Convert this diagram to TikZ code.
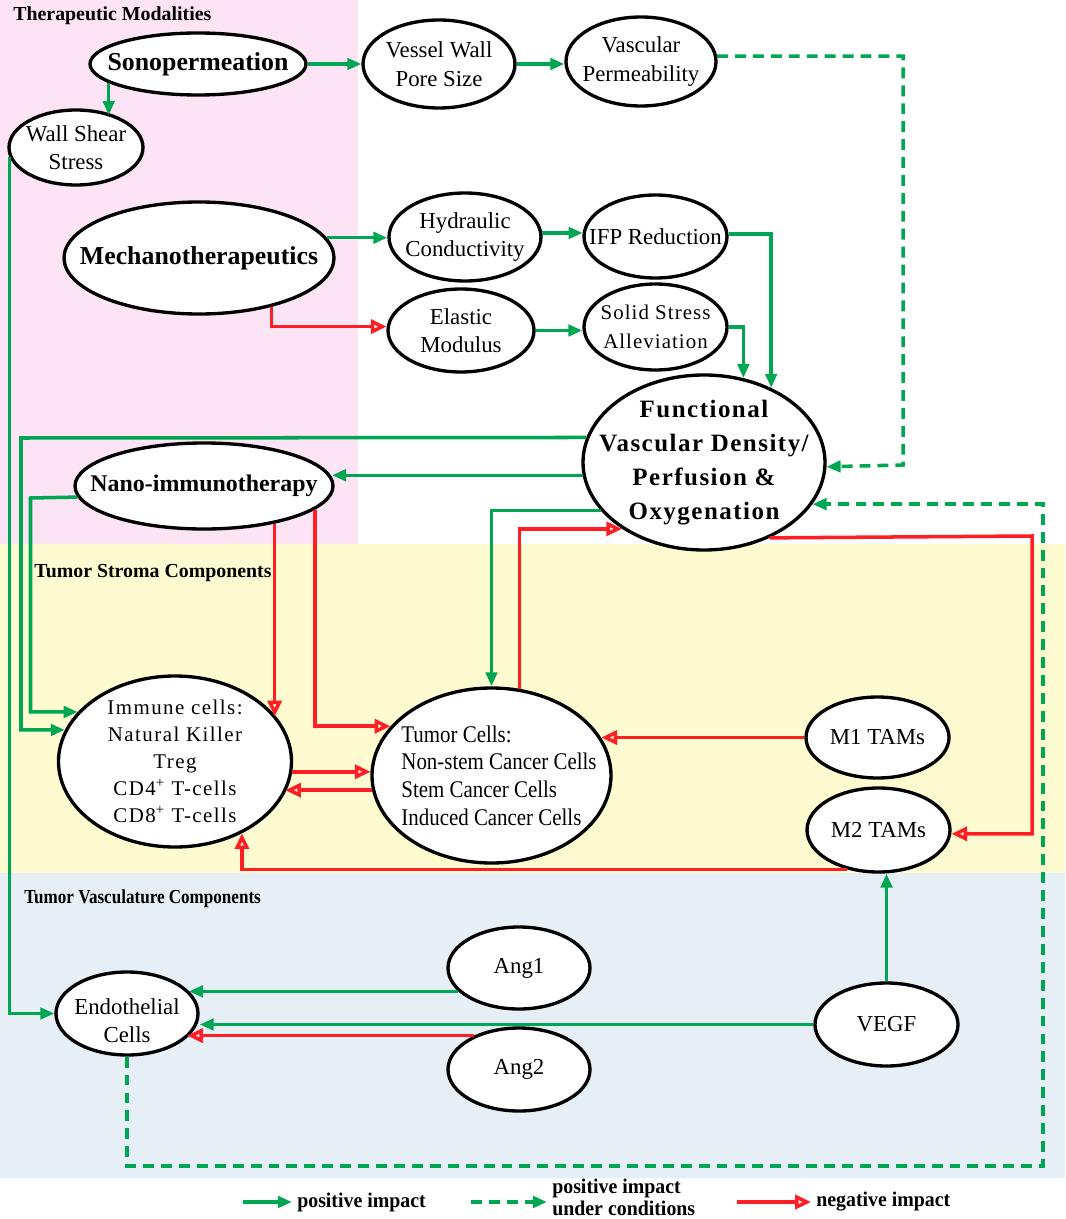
\documentclass[tikz,border=0pt]{standalone}
\usepackage{fontspec}
\setmainfont{Liberation Serif}
\usetikzlibrary{shapes.geometric,arrows.meta}
\definecolor{grn}{RGB}{0,166,81}
\definecolor{rd}{RGB}{255,30,35}
\definecolor{pinkbg}{RGB}{252,228,245}
\definecolor{yelbg}{RGB}{255,251,208}
\definecolor{bluebg}{RGB}{230,238,246}
\newcommand\fpx[2]{\fontsize{#1}{#2}\selectfont}
\tikzset{
  ell/.style args={#1/#2}{ellipse, draw=black, line width=1.9pt, fill=white, inner sep=0pt,
    minimum width=#1*0.02cm, minimum height=#2*0.02cm},
  txt/.style={align=center, inner sep=0pt, font=\fpx{13pt}{16.2pt}},
  ttl/.style={align=center, inner sep=0pt, font=\fpx{14.7pt}{17pt}\bfseries},
  nanot/.style={align=center, inner sep=0pt, font=\fpx{13.6pt}{16pt}\bfseries},
  funct/.style={align=center, inner sep=0pt, font=\fpx{14.2pt}{19.3pt}\bfseries\addfontfeatures{LetterSpace=6}},
  immt/.style={align=center, inner sep=0pt, font=\fpx{11.9pt}{15.3pt}\addfontfeatures{LetterSpace=7}},
  tumt/.style={align=left, inner sep=0pt, font=\fpx{13.6pt}{15.7pt}\addfontfeatures{FakeStretch=0.875}},
  solidt/.style={align=center, inner sep=0pt, font=\fpx{11.9pt}{16.4pt}\addfontfeatures{LetterSpace=5}},
  hdr/.style={anchor=base west, inner sep=0pt, font=\fpx{11.3pt}{13pt}\bfseries},
  legt/.style={anchor=west, align=left, inner sep=2.8pt, font=\fpx{11.9pt}{12.5pt}\bfseries\addfontfeatures{FakeStretch=0.95}},
  gar/.style={draw=grn, line width=2pt, -{Triangle[length=8pt,width=6.5pt]}},
  gard/.style={gar, dash pattern=on 6.2pt off 4pt},
  rar/.style={draw=rd, line width=2pt, -{Triangle[open,length=9pt,width=8pt]}},
}
\begin{document}
\begin{tikzpicture}[x=0.02cm,y=-0.02cm]
\useasboundingbox (0,0) rectangle (1065,1219);
% backgrounds
\fill[white] (0,0) rectangle (1065,1219);
\fill[pinkbg] (0,0) rectangle (358,544);
\fill[yelbg] (0,544) rectangle (1065,873);
\fill[bluebg] (0,873) rectangle (1065,1178);
% headers
\node[hdr] (h1) at (13,21) {Therapeutic Modalities};
\node[hdr] (h2) at (34,577) {Tumor Stroma Components};
\node[hdr, font=\fpx{11.3pt}{13pt}\bfseries\addfontfeatures{FakeStretch=0.86}] (h3) at (24,903) {Tumor Vasculature Components};
% nodes
\node[ell=216/62, label={[ttl]center:Sonopermeation}] (son) at (198,64) {};
\node[ell=134/75, label={[txt]center:{Wall Shear\\Stress}}] (wall) at (76,147.5) {};
\node[ell=152/88, label={[txt]center:{Vessel Wall\\Pore Size}}] (vessel) at (439,64) {};
\node[ell=150/89, label={[txt]center:{Vascular\\Permeability}}] (vperm) at (641,61.5) {};
\node[ell=270/112, label={[ttl]center:Mechanotherapeutics}] (mech) at (199,258) {};
\node[ell=152/88, label={[txt]center:{Hydraulic\\Conductivity}}] (hyd) at (465,237) {};
\node[ell=143/83, label={[txt]center:IFP Reduction}] (ifp) at (655.5,236.5) {};
\node[ell=146/83, label={[txt]center:{Elastic\\Modulus}}] (ela) at (461,330.5) {};
\node[ell=143/86, label={[solidt]center:{Solid Stress\\Alleviation}}] (solid) at (655.5,327) {};
\node[ell=242/175, label={[funct]center:{Functional\\Vascular Density/\\Perfusion \&\\Oxygenation}}] (func) at (704,462.5) {};
\node[ell=258/86, label={[nanot]center:Nano-immunotherapy}] (nano) at (204,486) {};
\node[ell=233/171, label={[immt]center:{Immune cells:\\Natural Killer\\Treg\\CD4\textsuperscript{+} T-cells\\CD8\textsuperscript{+} T-cells}}] (imm) at (175,761.5) {};
\node[ell=239/175, label={[tumt, xshift=4.25pt]center:{Tumor Cells:\\Non-stem Cancer Cells\\Stem Cancer Cells\\Induced Cancer Cells}}] (tum) at (491.5,775.5) {};
\node[ell=143/81, label={[txt]center:M1 TAMs}] (m1) at (877.5,737.5) {};
\node[ell=143/84, label={[txt]center:M2 TAMs}] (m2) at (878.5,830) {};
\node[ell=142/83, label={[txt, yshift=-4pt]center:{Endothelial\\Cells}}] (endo) at (127,1013.5) {};
\node[ell=142/82, label={[txt]center:Ang1}] (ang1) at (519,968) {};
\node[ell=142/83, label={[txt]center:Ang2}] (ang2) at (519,1069.5) {};
\node[ell=143/83, label={[txt]center:VEGF}] (vegf) at (886.5,1024.5) {};
% connectors
\draw[gar] (son.east) -- (vessel.west);
\draw[gar] (vessel.east) -- (vessel.east -| vperm.west);
\draw[gar] (son.192.7) -- (son.192.7 |- wall.40.2);
\coordinate (d1) at (903,465);
\draw[gard] (vperm.4.2) -| (d1) -- (func.358.8);
\draw[gar] (wall.188) |- (endo.west);
\draw[gar] (mech.9.5) -- (mech.9.5 -| hyd.west);
\draw[rar] (mech.326.2) |- (ela.177.2);
\draw[gar] (hyd.3) -- (hyd.3 -| ifp.177.2);
\draw[gar] (ela.east) -- (ela.east -| solid.west);
\draw[gar] (ifp.2.8) -| (func.48.6);
\draw[gar] (solid.0.8) -| (func.65.4);
\coordinate (g1) at (21,438);
\draw[gar] (func.168.1) -- (g1) |- (imm.164.9);
\draw[gar] (func.186.4) -- (func.186.4 -| nano.4.6);
\coordinate (g2) at (30.5,498);
\draw[gar] (nano.185.5) -- (g2) |- (imm.153.9);
\draw[rar] (nano.332.7) -- (nano.332.7 |- imm.24.5);
\draw[rar] (nano.348.8) |- (tum.154.7);
\draw[gar] (func.205.7) -| (tum.north);
\draw[rar] (tum.72.7) |- (func.219.2);
\draw[rar] (imm.355.8) -- (imm.355.8 -| tum.177.4);
\draw[rar] (tum.187.5) -- (tum.187.5 -| imm.344.9);
\draw[rar] (m1.west) -- (m1.west -| tum.19.1);
\draw[rar] (m2.231.3) -| (imm.313.8);
\coordinate (r1) at (1032,536);
\draw[rar] (func.311.8) -- (r1) |- (m2.357.6);
\draw[gar] (vegf.north) -- (vegf.north |- m2.south);
\coordinate (d2) at (1043,1166);
\draw[gard] (endo.south) |- (d2) |- (func.339.3);
\draw[gar] (ang1.201.4) -- (ang1.201.4 -| endo.20.6);
\draw[gar] (vegf.west) -- (vegf.west -| endo.east);
\draw[rar] (ang2.143.6) -- (ang2.143.6 -| endo.338.1);
% legend
\coordinate (la1) at (243,1202);
\node[legt] (lt1) at (292,1202) {positive impact};
\draw[gar] (la1) -- (lt1.west);
\coordinate (la2) at (471,1202);
\node[legt] (lt2) at (547,1197) {positive impact\\under conditions};
\draw[gard] (la2) -- (lt2.west |- la2);
\coordinate (la3) at (737,1202);
\node[legt] (lt3) at (811,1202) {negative impact};
\draw[rar] (la3) -- (lt3.west);
\end{tikzpicture}
\end{document}
